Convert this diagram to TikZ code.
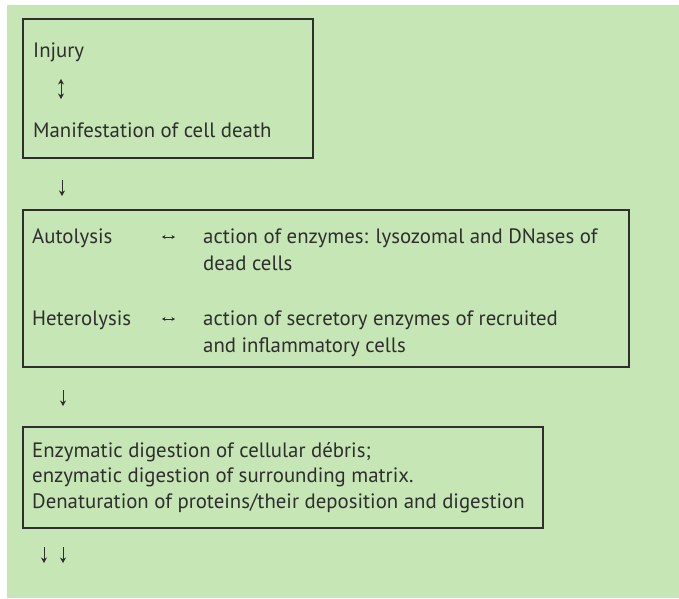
\documentclass[tikz,border=0pt]{standalone}
\usepackage{fontspec}
\setmainfont{PT Sans}
\usetikzlibrary{arrows.meta}
\definecolor{bggreen}{HTML}{C6E6B6}
\definecolor{ink}{HTML}{2E2E2E}
\begin{document}
\begin{tikzpicture}[x=1pt,y=-1pt,
  txt/.style={anchor=base west,inner sep=0pt,text=ink,font=\fontsize{20.8}{25}\selectfont},
  frame/.style={draw=ink,line width=1.3pt},
  arr/.style={draw=ink,line width=0.9pt,-{Stealth[length=5.5pt,width=6pt]}},
  darr/.style={draw=ink,line width=0.9pt,{Stealth[length=5.5pt,width=6pt]}-{Stealth[length=5.5pt,width=6pt]}},
  harr/.style={draw=ink,line width=0.7pt,{Stealth[length=3.5pt,width=4pt]}-{Stealth[length=3.5pt,width=4pt]}}]
\useasboundingbox (0,0) rectangle (679,598);
\fill[white] (0,0) rectangle (679,598);
\fill[bggreen] (7,5) rectangle (679,598);
% box 1
\draw[frame] (23,19) rectangle (313,158);
\node[txt] (injury) at (33,57) {Injury};
\node[txt] (manif) at (33,137) {Manifestation of cell death};
\coordinate (d1a) at (61,79);
\coordinate (d1b) at (61,99);
\draw[darr] (d1a) -- (d1b);
\coordinate (a1s) at (62,180);
\coordinate (a1e) at (62,196);
\draw[arr] (a1s) -- (a1e);
% box 2
\draw[frame] (23,210) rectangle (629,367);
\node[txt] (auto) at (32,243) {Autolysis};
\node[txt] (auto1) at (203,243) {action of enzymes: lysozomal and DNases of};
\node[txt] (auto2) at (203,270) {dead cells};
\node[txt] (hetero) at (32,325) {Heterolysis};
\node[txt] (het1) at (203,325) {action of secretory enzymes of recruited};
\node[txt] (het2) at (203,352) {and inflammatory cells};
\coordinate (h1a) at (162,237);
\coordinate (h1b) at (175,237);
\draw[harr] (h1a) -- (h1b);
\coordinate (h2a) at (162,319);
\coordinate (h2b) at (175,319);
\draw[harr] (h2a) -- (h2b);
\coordinate (a2s) at (63,390);
\coordinate (a2e) at (63,406);
\draw[arr] (a2s) -- (a2e);
% box 3
\draw[frame] (23,427) rectangle (543,528);
\node[txt] (e1) at (32,457) {Enzymatic digestion of cellular débris;};
\node[txt] (e2) at (32,482) {enzymatic digestion of surrounding matrix.};
\node[txt] (e3) at (32,508) {Denaturation of proteins/their deposition and digestion};
\coordinate (b1s) at (44,547);
\coordinate (b1e) at (44,563);
\draw[arr] (b1s) -- (b1e);
\coordinate (b2s) at (63,547);
\coordinate (b2e) at (63,563);
\draw[arr] (b2s) -- (b2e);
\end{tikzpicture}
\end{document}
